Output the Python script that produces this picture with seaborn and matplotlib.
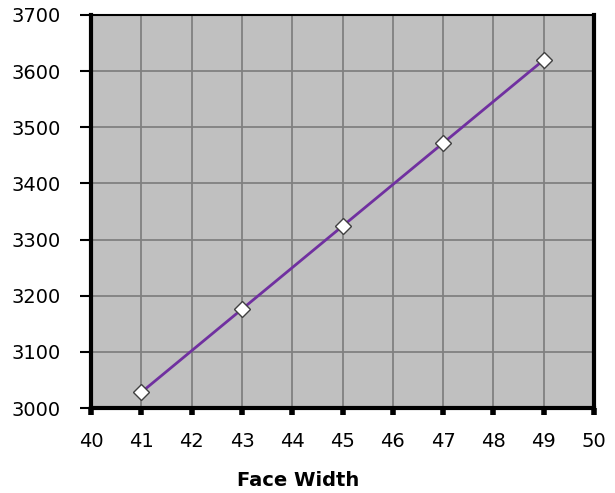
import matplotlib
matplotlib.use("Agg")
import matplotlib.pyplot as plt
import seaborn as sns
import pandas as pd

face_width = [41, 43, 45, 47, 49]
load_values = [3028, 3176, 3324, 3472, 3620]
x_ticks = [40, 41, 42, 43, 44, 45, 46, 47, 48, 49, 50]
y_ticks = [3000, 3100, 3200, 3300, 3400, 3500, 3600, 3700]

sns.set_theme(style="white")
plt.rcParams["font.family"] = ["DejaVu Sans"]

df = pd.DataFrame({"Face Width": face_width, "Value": load_values})

fig = plt.figure(figsize=(6.15, 4.93), dpi=100)
ax = fig.add_axes([0.148, 0.1724, 0.818, 0.7972])
ax.set_facecolor("#c0c0c0")

sns.lineplot(data=df, x="Face Width", y="Value", ax=ax, color="#7030a0",
             linewidth=2, marker="D", markersize=8, markerfacecolor="white",
             markeredgecolor="#404040", markeredgewidth=1, zorder=3)

ax.set_xlim(40, 50)
ax.set_ylim(3000, 3700)
ax.set_xticks(x_ticks)
ax.set_yticks(y_ticks)
ax.grid(True, color="#808080", linewidth=1.3)
ax.set_axisbelow(True)

for side in ["left", "bottom", "right"]:
    ax.spines[side].set_linewidth(3)
    ax.spines[side].set_color("black")
ax.spines["top"].set_linewidth(1.5)
ax.spines["top"].set_color("black")

ax.tick_params(axis="y", which="major", left=True, length=8, width=1.5,
               pad=14, labelsize=14, colors="black")
ax.tick_params(axis="x", which="major", bottom=True, length=5, width=4,
               pad=12, labelsize=14, colors="black")

ax.set_xlabel("")
ax.set_ylabel("")
fig.text(298.5 / 615, 1 - 480 / 493, "Face Width", fontsize=14,
         fontweight="bold", ha="center", va="center", color="black")

fig.savefig("out.png", dpi=100)
